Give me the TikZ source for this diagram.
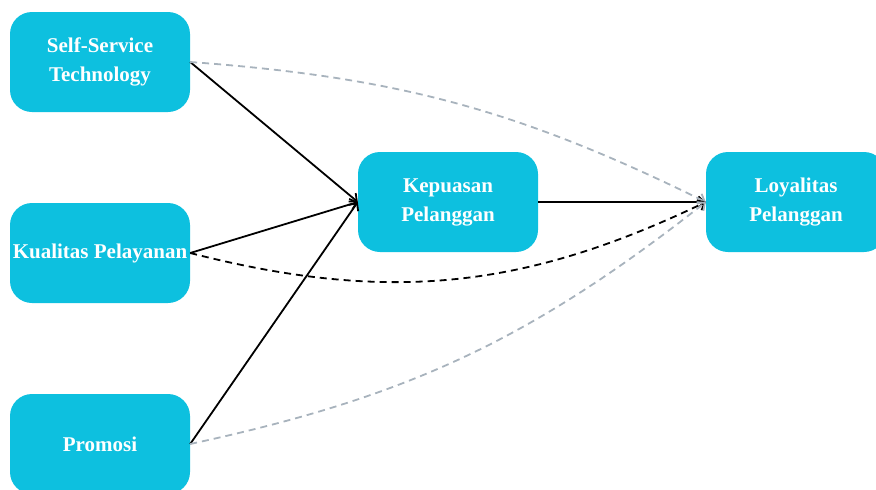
\documentclass[tikz,border=0pt]{standalone}
\usepackage{xcolor}
\usepackage{fontspec}
\setmainfont{Liberation Serif}
\usepackage{tikz}
\usetikzlibrary{arrows.meta}
\definecolor{boxcyan}{HTML}{0DC0DF}
\definecolor{dashgray}{HTML}{A8B3BD}

\begin{document}
\begin{tikzpicture}[x=1pt, y=-1pt,
    box/.style={rectangle, rounded corners=22pt, fill=boxcyan, draw=none, inner xsep=1pt, minimum width=180pt, minimum height=100pt, text=white, font=\fontsize{21}{29}\selectfont\bfseries, align=center},
    link/.style={-{Straight Barb[length=6pt, width=11pt, line width=1.8pt]}, line width=1.8pt},
    weak/.style={link, dash pattern=on 7pt off 5pt, dashgray}]
    \useasboundingbox (0,0) rectangle (876,490);
    \node (sst) [box] at (100,62) {Self-Service\\Technology};
    \node (kualitas) [box] at (100,253) {Kualitas Pelayanan};
    \node (promosi) [box] at (100,444) {Promosi};
    \node (kepuasan) [box] at (448,202) {Kepuasan\\Pelanggan};
    \node (loyalitas) [box] at (796,202) {Loyalitas\\Pelanggan};

    \draw[link] (sst.east) -- (kepuasan.west);
    \draw[link] (kualitas.east) -- (kepuasan.west);
    \draw[link] (promosi.east) -- (kepuasan.west);
    \draw[link] (kepuasan.east) -- (loyalitas.west);

    \draw[weak] (sst.east) to[bend left=11] (loyalitas.west);
    \draw[weak, black] (kualitas.east) to[bend right=20] (loyalitas.west);
    \draw[weak] (promosi.east) to[bend right=13] (loyalitas.west);
\end{tikzpicture}
\end{document}
